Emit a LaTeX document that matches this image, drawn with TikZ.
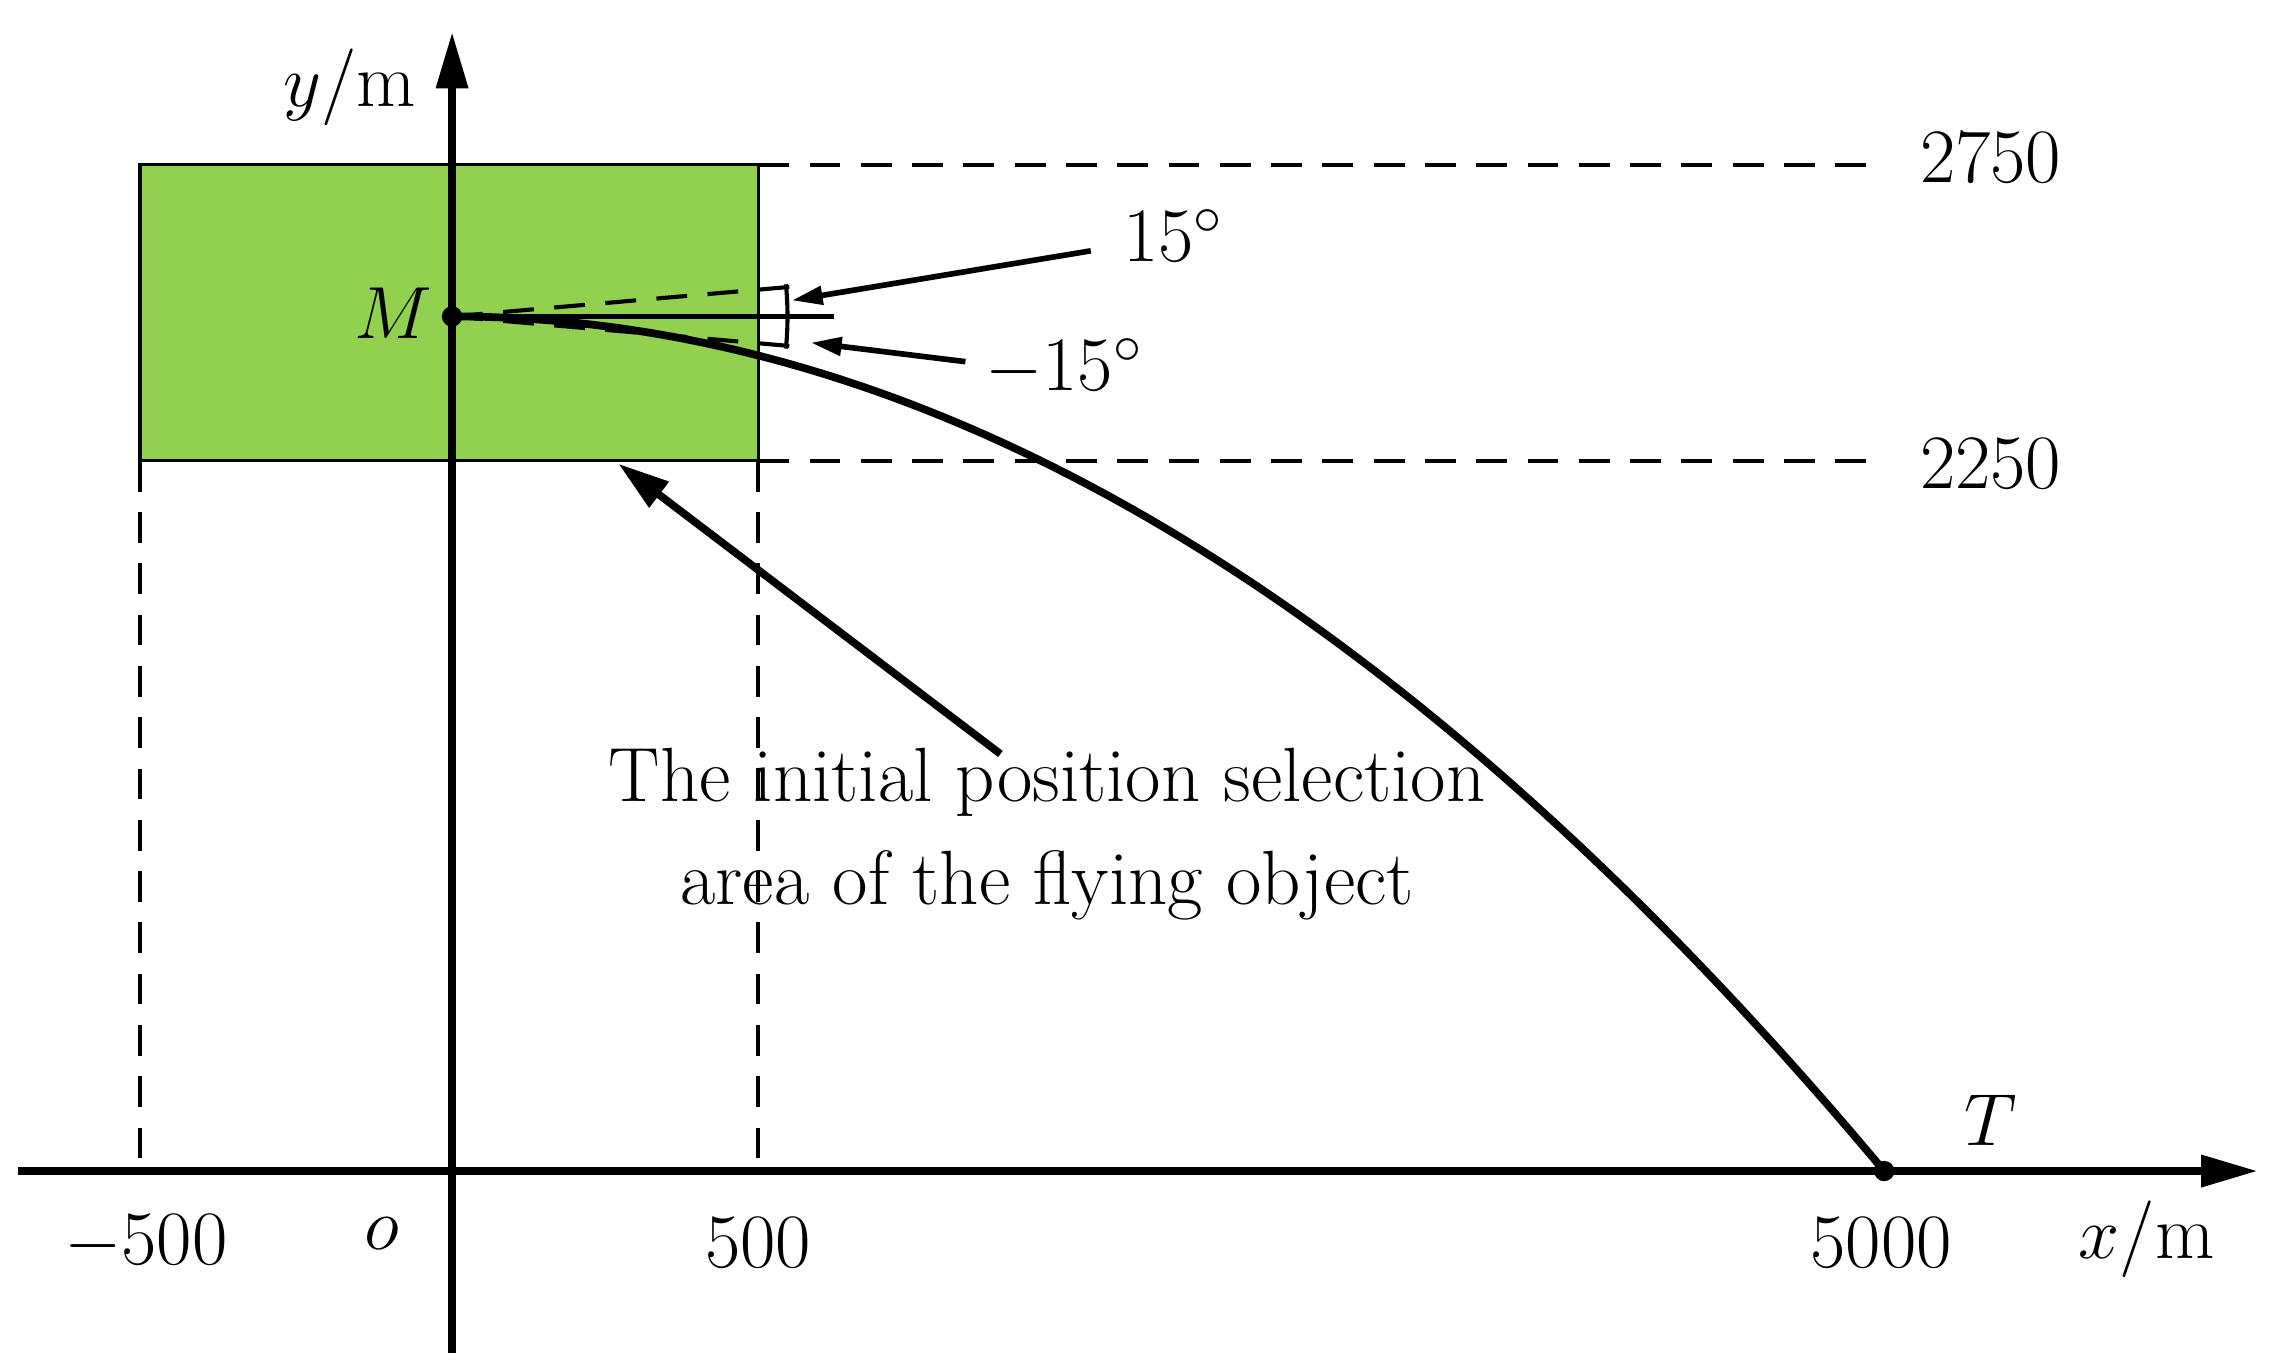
\documentclass[tikz,border=0pt]{standalone}
\usetikzlibrary{arrows.meta}
\definecolor{grn}{HTML}{92D050}
\begin{document}
\begin{tikzpicture}[x=0.01cm,y=-0.01cm,
  lbl/.style={font=\fontsize{15}{18}\selectfont,inner sep=0pt},
  dsh/.style={dash pattern=on 6pt off 4pt,line width=0.8pt},
  axis/.style={line width=1.5pt,-{Triangle[length=11pt,width=6pt]}},
  arr/.style={line width=1.1pt,-{Triangle[length=6pt,width=3.5pt]}}]
\useasboundingbox (0,0) rectangle (1560,940);
\fill[grn] (96,113) rectangle (520,316);
\draw[line width=0.6pt] (96,113) rectangle (520,316);
\coordinate (a1) at (520,113); \coordinate (b1) at (1290,113);
\coordinate (a2) at (520,316); \coordinate (b2) at (1290,316);
\draw[dsh] (a1) -- (b1); \draw[dsh] (a2) -- (b2);
\coordinate (l1) at (96,316); \coordinate (l2) at (96,803);
\coordinate (r1) at (520,316); \coordinate (r2) at (520,803);
\draw[dsh] (l1) -- (l2); \draw[dsh] (r1) -- (r2);
\coordinate (xs) at (12,803); \coordinate (xe) at (1548,803);
\coordinate (ys) at (310,928); \coordinate (ye) at (310,22);
\draw[axis] (xs) -- (xe);
\draw[axis] (ys) -- (ye);
\coordinate (M) at (310,217); \coordinate (T) at (1292,803);
\draw[line width=1.5pt] (M) .. controls (637,217) and (965,412) .. (T);
\fill (M) circle (7);
\fill (T) circle (7);
\coordinate (h) at (572,217);
\coordinate (up) at (550,196); \coordinate (dn) at (550,238);
\draw[line width=0.8pt] (M) -- (h);
\draw[dsh] (M) -- (up); \draw[dsh] (M) -- (dn);
\draw[line width=0.8pt] (540,217) arc (0:5.5:230);
\draw[line width=0.8pt] (540,217) arc (0:-5.5:230);
\node[lbl] (n15) at (805,162) {15$^\circ$};
\node[lbl] (nm15) at (730,252) {$-$15$^\circ$};
\coordinate (t15) at (543,206); \coordinate (tm15) at (556,235);
\coordinate (s15) at (748,172); \coordinate (sm15) at (662,248);
\draw[arr] (s15) -- (t15);
\draw[arr] (sm15) -- (tm15);
\coordinate (bs) at (686,517); \coordinate (be) at (424,318);
\draw[line width=1.5pt,-{Triangle[length=10pt,width=6pt]}] (bs) -- (be);
\node[lbl,align=center] (txt) at (718,572) {The initial position selection\\[2pt]area of the flying object};
\node[lbl] (nM) at (270,215) {$M$};
\node[lbl] (ny) at (240,60) {$y$/m};
\node[lbl] (nx) at (1472,850) {$x$/m};
\node[lbl] (n1) at (1365,108) {2750};
\node[lbl] (n2) at (1365,318) {2250};
\node[lbl] (n3) at (100,852) {$-$500};
\node[lbl] (n4) at (262,846) {$o$};
\node[lbl] (n5) at (520,852) {500};
\node[lbl] (n6) at (1290,852) {5000};
\node[lbl] (nT) at (1365,768) {$T$};
\end{tikzpicture}
\end{document}
